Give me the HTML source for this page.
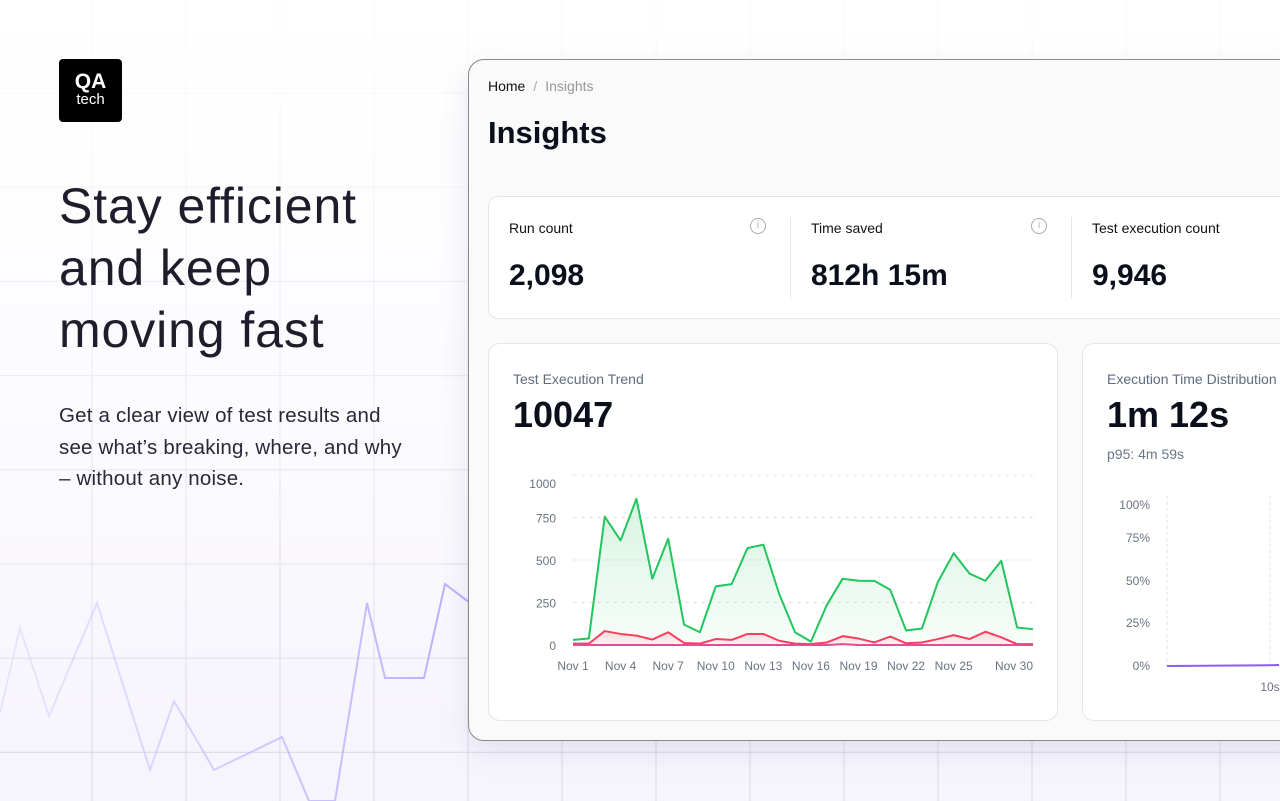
<!DOCTYPE html>
<html><head><meta charset="utf-8"><style>
*{margin:0;padding:0;box-sizing:border-box}
body{width:1280px;height:801px;overflow:hidden;position:relative;font-family:"Liberation Sans",sans-serif;background:linear-gradient(#ffffff 0%,#fcfbfe 50%,#f6f4fc 100%)}
.abs{position:absolute}
</style></head><body>
<svg class="abs" style="left:0;top:0" width="1280" height="801">
<defs><linearGradient id="bgl" gradientUnits="userSpaceOnUse" x1="0" y1="0" x2="470" y2="0"><stop offset="0" stop-color="#c8bfff" stop-opacity="0.3"/><stop offset="1" stop-color="#b9acff" stop-opacity="1"/></linearGradient></defs>
<g stroke-width="1.2" id="grid"></g>
<polyline fill="none" stroke="url(#bgl)" stroke-width="2" points="0,713 20,628 49,716 97,603 150,770 174,701 214,770 282,737 309,801 335,801 367,603 385,678 424,678 445,584 470,603"/>
</svg>
<div class="abs" style="left:59px;top:59px;width:63px;height:63px;background:#000;border-radius:4px;color:#fff;text-align:center">
<div style="font-weight:bold;font-size:21px;line-height:21px;margin-top:12px">QA</div>
<div style="font-size:15px;line-height:15px">tech</div></div>
<div class="abs" style="left:59px;top:175px;font-size:50px;line-height:62px;color:#1f1d2b;letter-spacing:0.9px">Stay efficient<br>and keep<br>moving fast</div>
<div class="abs" style="left:59px;top:400px;font-size:20.5px;line-height:31.5px;color:#2a2838;letter-spacing:0.2px">Get a clear view of test results and<br>see what’s breaking, where, and why<br>– without any noise.</div>

<div class="abs" style="left:468px;top:59px;width:840px;height:682px;background:#fafafa;border:1px solid #8a8a8a;border-radius:16px;box-shadow:0 10px 30px rgba(80,70,140,0.12);overflow:hidden">
<div class="abs" style="left:19px;top:18px;font-size:14px;color:#111"><span>Home</span><span style="color:#aaa;margin:0 8px">/</span><span style="color:#999">Insights</span></div>
<div class="abs" style="left:19px;top:55px;font-size:31px;font-weight:bold;color:#0b0f1c">Insights</div>
<div class="abs" style="left:19px;top:136px;width:830px;height:123px;background:#fff;border:1px solid #e6e6e6;border-radius:10px">
 <div class="abs" style="left:20px;top:23px;font-size:14px;color:#111">Run count</div>
 <div class="abs" style="left:261px;top:21px;width:16px;height:16px;border:1px solid #aaa;border-radius:50%;font-size:10px;color:#aaa;text-align:center;line-height:14px">i</div>
 <div class="abs" style="left:20px;top:62px;font-size:30px;font-weight:bold;color:#0b0f1c">2,098</div>
 <div class="abs" style="left:301px;top:20px;width:1px;height:82px;background:#e6e6e6"></div>
 <div class="abs" style="left:322px;top:23px;font-size:14px;color:#111">Time saved</div>
 <div class="abs" style="left:542px;top:21px;width:16px;height:16px;border:1px solid #aaa;border-radius:50%;font-size:10px;color:#aaa;text-align:center;line-height:14px">i</div>
 <div class="abs" style="left:322px;top:62px;font-size:30px;font-weight:bold;color:#0b0f1c">812h 15m</div>
 <div class="abs" style="left:582px;top:20px;width:1px;height:82px;background:#e6e6e6"></div>
 <div class="abs" style="left:603px;top:23px;font-size:14px;color:#111">Test execution count</div>
 <div class="abs" style="left:603px;top:62px;font-size:30px;font-weight:bold;color:#0b0f1c">9,946</div>
</div>
<div class="abs" style="left:19px;top:283px;width:570px;height:378px;background:#fff;border:1px solid #e6e6e6;border-radius:12px">
 <div class="abs" style="left:24px;top:27px;font-size:14px;color:#5f6b7f">Test Execution Trend</div>
 <div class="abs" style="left:24px;top:50px;font-size:36px;font-weight:bold;color:#0b0f1c">10047</div>
</div>
<div class="abs" style="left:613px;top:283px;width:300px;height:378px;background:#fff;border:1px solid #e6e6e6;border-radius:12px">
 <div class="abs" style="left:24px;top:27px;font-size:14px;color:#5f6b7f;white-space:nowrap">Execution Time Distribution</div>
 <div class="abs" style="left:24px;top:50px;font-size:36px;font-weight:bold;color:#0b0f1c">1m 12s</div>
 <div class="abs" style="left:24px;top:102px;font-size:14px;color:#6b778a">p95: 4m 59s</div>
</div>
</div>

<svg class="abs" id="chart" style="left:0;top:0" width="1280" height="801"></svg>
<svg class="abs" id="dist" style="left:0;top:0" width="1280" height="801"></svg>

<script>
const NS="http://www.w3.org/2000/svg";
function mk(p,t,a){const e=document.createElementNS(NS,t);for(const k in a)e.setAttribute(k,a[k]);p.appendChild(e);return e;}
// background grid
const g=document.getElementById('grid');
for(let x=92;x<1280;x+=94){
 for(let y0=0;y0<801;y0+=40){const op=0.12+0.8*Math.pow(y0/801,1.3);mk(g,'line',{x1:x,y1:y0,x2:x,y2:y0+40,stroke:'rgba(220,216,232,'+op.toFixed(2)+')'});}
}
for(let y=93;y<801;y+=94.2){const op=0.12+0.8*Math.pow(y/801,1.3);mk(g,'line',{x1:0,y1:y,x2:1280,y2:y,stroke:'rgba(220,216,232,'+op.toFixed(2)+')'});}

// trend chart data
const days=[1,2,3,4,5,6,7,8,9,10,11,12,13,14,15,16,17,18,19,20,21,22,23,24,25,26,27,28,29,30];
const passed=[30,38,755,615,860,390,625,120,75,345,358,570,590,300,75,20,235,390,378,377,325,85,97,370,540,420,378,495,103,93];
const failed=[8,8,82,65,55,32,75,12,8,35,30,65,65,25,8,5,15,52,38,15,50,10,15,35,58,35,78,45,5,5];
const other=[0,0,0,0,0,0,0,0,0,0,0,0,0,0,0,0,0,5,0,0,0,0,0,0,0,0,0,0,0,0];
const yTicks=[0,250,500,750,1000];
const xLabelDays=[1,4,7,10,13,16,19,22,25,30];
const c=document.getElementById('chart');
const X=d=>573+(d-1)*(1033-573)/29;
const Y=v=>645-v*(170/1000);
const defs=mk(c,'defs',{});
const lg=mk(defs,'linearGradient',{id:'ga',x1:0,y1:0,x2:0,y2:1});
mk(lg,'stop',{offset:0,'stop-color':'#22c55e','stop-opacity':0.18});mk(lg,'stop',{offset:1,'stop-color':'#22c55e','stop-opacity':0.03});
const lr=mk(defs,'linearGradient',{id:'gr',x1:0,y1:0,x2:0,y2:1});
mk(lr,'stop',{offset:0,'stop-color':'#f43f5e','stop-opacity':0.18});mk(lr,'stop',{offset:1,'stop-color':'#f43f5e','stop-opacity':0.04});
yTicks.forEach(t=>{
 const l=mk(c,'line',{x1:573,x2:1033,y1:Y(t),y2:Y(t),stroke:'#e5e5e5','stroke-dasharray':'4 4'});
 
 
 const tx=mk(c,'text',{x:556,y:Y(t)+(t===1000?13:5),'text-anchor':'end','font-size':12,fill:'#6b7280','font-family':'Liberation Sans, sans-serif'});
 tx.textContent=t;
 
 
});
xLabelDays.forEach(d=>{
 const last=d===30;
 const tx=mk(c,'text',{x:X(d),y:670,'text-anchor':last?'end':'middle','font-size':12,fill:'#6b7280','font-family':'Liberation Sans, sans-serif'});
 tx.textContent='Nov '+d;
 
 
});
function series(vals,color,fill,name){
 const pts=vals.map((v,i)=>X(days[i])+','+Y(v)).join(' ');
 if(fill){const a=mk(c,'polygon',{points:X(days[0])+','+Y(0)+' '+pts+' '+X(days[days.length-1])+','+Y(0),fill:fill});
  
  }
 const p=mk(c,'polyline',{points:pts,fill:'none',stroke:color,'stroke-width':2,'stroke-linejoin':'round'});
 
 
}
series(passed,'#22c55e','url(#ga)','passed');
series(failed,'#f43f5e','url(#gr)','failed');
series(other,'#ec4899',null,'other');

// distribution chart
const pctTicks=[0,25,50,75,100];
const pctLabelY=[670,627,585,542,509];
const distBins=[0,10];
const distVals=[0,0.5];
const dc=document.getElementById('dist');
const DY=v=>666-v*(161/100);
const DX=b=>1167+b*(1270-1167)/10;
pctTicks.forEach((t,i)=>{
 const tx=mk(dc,'text',{x:1150,y:pctLabelY[i],'text-anchor':'end','font-size':12,fill:'#6b7280','font-family':'Liberation Sans, sans-serif'});
 tx.textContent=t+'%';
 
 
});
distBins.forEach(b=>{
 const l=mk(dc,'line',{x1:DX(b),x2:DX(b),y1:496,y2:666,stroke:'#e0e0e0','stroke-dasharray':'3 3'});
 
 
 if(b>0){const tx=mk(dc,'text',{x:DX(b),y:691,'text-anchor':'middle','font-size':12,fill:'#6b7280','font-family':'Liberation Sans, sans-serif'});
 tx.textContent=b+'s';
 
 }
});
const dl=mk(dc,'polyline',{points:distBins.map((b,i)=>DX(b)+','+DY(distVals[i])).join(' ')+' 1279,'+DY(0.6),fill:'none',stroke:'#8b5cf6','stroke-width':2});


</script>
</body></html>
